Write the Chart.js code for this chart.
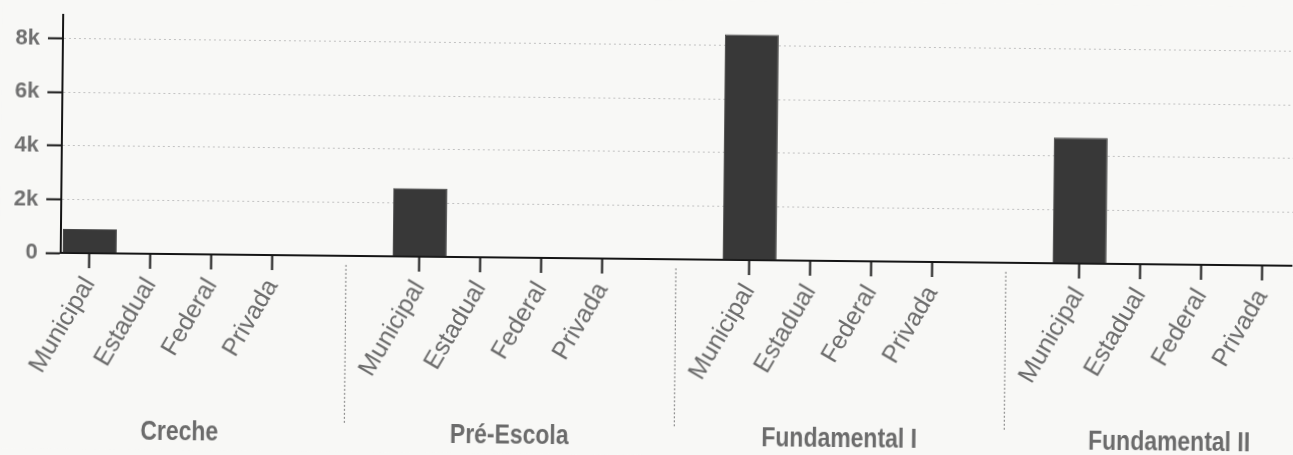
<!DOCTYPE html>
<html>
<head>
<meta charset="utf-8">
<script src="https://cdn.jsdelivr.net/npm/chart.js@4/dist/chart.umd.min.js"></script>
<style>
    html, body { margin: 0; padding: 0; background: #f8f8f6; overflow: hidden; }
    /* the source is a scan that sits slightly askew */
    #chart { display: block; transform: rotate(0.6deg); }
</style>
</head>
<body>
<canvas id="chart" width="1293" height="455"></canvas>
<script>
const groups = ['Creche', 'Pré-Escola', 'Fundamental I', 'Fundamental II'];
const categories = ['Municipal', 'Estadual', 'Federal', 'Privada'];

// matrículas por rede, um array por etapa (Municipal, Estadual, Federal, Privada)
const creche = [900, 0, 0, 0];
const preEscola = [2550, 0, 0, 0];
const fundamentalI = [8420, 0, 0, 0];
const fundamentalII = [4700, 0, 0, 0];

const yTicks = [0, 2000, 4000, 6000, 8000];
const yTickLabels = ['0', '2k', '4k', '6k', '8k'];

// layout of the grouped axis, in units of one category slot
const FIRST_SLOT = 0.475;
const GROUP_STEP = 5.41;
const X_MAX = 20.2;
const Y_MAX = 8880;

const groupValues = [creche, preEscola, fundamentalI, fundamentalII];
const slotOf = (g, c) => FIRST_SLOT + g * GROUP_STEP + c;

const points = [];
groupValues.forEach((vals, g) => {
    vals.forEach((v, c) => points.push({ x: slotOf(g, c), y: v }));
});

const greyText = '#6b6b6b';
const sans = "'Liberation Sans', Arial, sans-serif";

const background = {
    id: 'background',
    beforeDraw(chart) {
        const { ctx, width, height } = chart;
        ctx.save();
        ctx.fillStyle = '#f8f8f6';
        ctx.fillRect(0, 0, width, height);
        ctx.restore();
    }
};

// group names under the category labels, with dotted separators between groups
const groupAxis = {
    id: 'groupAxis',
    afterDraw(chart) {
        const { ctx, scales: { x } } = chart;
        const top = chart.chartArea.bottom + 9;
        ctx.save();

        ctx.strokeStyle = '#8f8f8f';
        ctx.lineWidth = 1.2;
        ctx.setLineDash([2, 2]);
        for (let g = 0; g < groups.length - 1; g++) {
            const px = x.getPixelForValue((slotOf(g, categories.length - 1) + slotOf(g + 1, 0)) / 2);
            ctx.beginPath();
            ctx.moveTo(px, top);
            ctx.lineTo(px, 427);
            ctx.stroke();
        }

        // narrow face, like the original print
        ctx.setLineDash([]);
        ctx.fillStyle = greyText;
        ctx.font = `bold 28px ${sans}`;
        ctx.textAlign = 'center';
        ctx.textBaseline = 'middle';
        groups.forEach((name, g) => {
            const px = x.getPixelForValue((slotOf(g, 0) + slotOf(g, categories.length - 1)) / 2);
            ctx.save();
            ctx.translate(px, 437);
            ctx.scale(0.82, 1);
            ctx.fillText(name, 0, 0);
            ctx.restore();
        });
        ctx.restore();
    }
};

new Chart(document.getElementById('chart'), {
    type: 'bar',
    data: {
        datasets: [{
            label: 'Matrículas',
            data: points,
            backgroundColor: '#383838',
            borderColor: '#4a4a4a',
            borderWidth: 1,
            categoryPercentage: 1,
            barPercentage: 0.885
        }]
    },
    options: {
        responsive: false,
        animation: false,
        layout: { padding: { top: 16, right: 0, left: 0, bottom: 0 } },
        plugins: {
            legend: { display: false },
            tooltip: { enabled: false }
        },
        scales: {
            x: {
                type: 'linear',
                min: 0,
                max: X_MAX,
                offset: false,
                afterBuildTicks: (scale) => {
                    scale.ticks = points.map(p => ({ value: p.x }));
                },
                afterFit: (scale) => {
                    scale.height = 196;
                    scale.paddingLeft = 0;
                    scale.paddingRight = 0;
                },
                grid: {
                    offset: false,
                    drawOnChartArea: false,
                    drawTicks: true,
                    tickLength: 15,
                    tickColor: '#151515',
                    tickWidth: 2
                },
                border: { display: true, color: '#151515', width: 2 },
                ticks: {
                    autoSkip: false,
                    minRotation: 60,
                    maxRotation: 60,
                    padding: 4,
                    color: greyText,
                    font: { family: sans, size: 25 },
                    callback: (value, index) => categories[index % categories.length]
                }
            },
            y: {
                min: 0,
                max: Y_MAX,
                afterBuildTicks: (scale) => {
                    scale.ticks = yTicks.map(v => ({ value: v }));
                },
                afterFit: (scale) => {
                    scale.width = 61;
                },
                grid: {
                    color: '#c2c2c2',
                    lineWidth: 1,
                    drawTicks: true,
                    tickLength: 15,
                    tickColor: '#151515',
                    tickWidth: 2
                },
                border: { display: true, color: '#151515', width: 2, dash: [2, 3] },
                ticks: {
                    padding: 8,
                    color: '#707070',
                    font: { family: sans, size: 22, weight: 'bold' },
                    callback: (value, index) => yTickLabels[index]
                }
            }
        }
    },
    plugins: [background, groupAxis]
});
</script>
</body>
</html>
